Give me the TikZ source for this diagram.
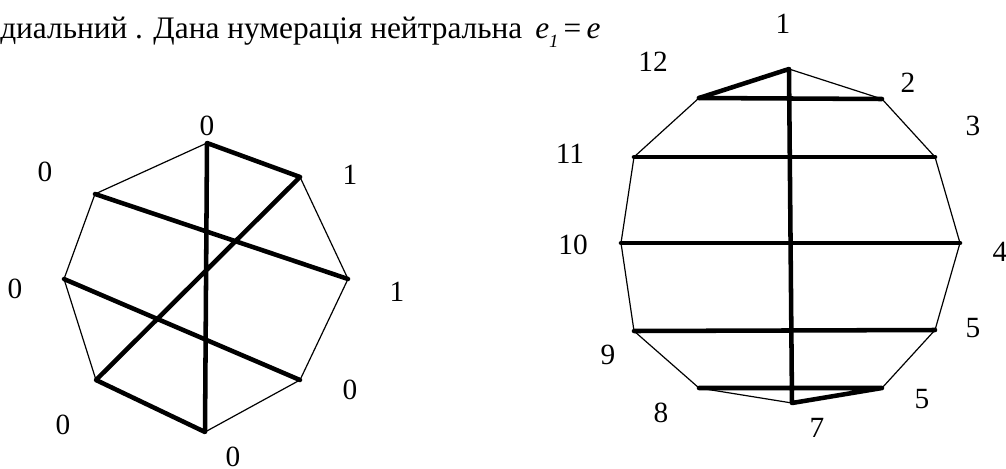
\documentclass[tikz,border=0pt]{standalone}
\usepackage{fontspec}
\setmainfont{Liberation Serif}
\usetikzlibrary{positioning}

\begin{document}
\begin{tikzpicture}[
    x=0.75pt, y=-0.75pt,
    side/.style={line width=0.9pt, line join=round},
    chord/.style={line width=3.4pt, line cap=round, line join=round},
    lbl/.style={inner sep=0pt, font=\fontsize{22}{24}\selectfont},
    headtext/.style={inner sep=0pt, anchor=base west, font=\fontsize{23.5}{28}\selectfont}
]
\useasboundingbox (0,0) rectangle (1006,468);

% heading line (cut at the right like the source)
\node (title) [headtext] at (0,38) {диальний . Дана нумерація нейтральна};
\begin{scope}
  \clip (480,0) rectangle (600,60);
  \node (eq) [headtext] at (535,38) {\textit{e}\raisebox{-0.3em}{\fontsize{14}{14}\selectfont\textit{1}}\,=\,\textit{e}\raisebox{-0.3em}{\fontsize{14}{14}\selectfont\textit{0}}};
\end{scope}

% octagon
\coordinate (a0) at (207,143);
\coordinate (a1) at (300,177);
\coordinate (a2) at (348,279);
\coordinate (a3) at (300,380);
\coordinate (a4) at (205,432);
\coordinate (a5) at (96,380);
\coordinate (a6) at (64,279);
\coordinate (a7) at (95,194);

\node (la0) [lbl] at (207,126) {0};
\node (la1) [lbl] at (350,175) {1};
\node (la2) [lbl] at (397,292) {1};
\node (la3) [lbl] at (350,390) {0};
\node (la4) [lbl] at (233,457) {0};
\node (la5) [lbl] at (63,425) {0};
\node (la6) [lbl] at (15,289) {0};
\node (la7) [lbl] at (45,172) {0};

\draw [side] (a0) -- (a7) -- (a6) -- (a5);
\draw [side] (a4) -- (a3) -- (a2) -- (a1);
\draw [chord] (a1) -- (a0) -- (a4) -- (a5) -- (a1);
\draw [chord] (a7) -- (a2);
\draw [chord] (a6) -- (a3);

% dodecagon
\coordinate (b1) at (789,69);
\coordinate (b2) at (882,99);
\coordinate (b3) at (935,157);
\coordinate (b4) at (960,243);
\coordinate (b5) at (935,330);
\coordinate (b6) at (882,388);
\coordinate (b7) at (792,403);
\coordinate (b8) at (699,388);
\coordinate (b9) at (634,331);
\coordinate (b10) at (621,243);
\coordinate (b11) at (634,157);
\coordinate (b12) at (699,98);

\node (lb1) [lbl] at (783,24) {1};
\node (lb2) [lbl] at (908,83) {2};
\node (lb3) [lbl] at (973,126) {3};
\node (lb4) [lbl] at (1000,252) {4};
\node (lb5) [lbl] at (973,328) {5};
\node (lb6) [lbl] at (922,399) {5};
\node (lb7) [lbl] at (817,428) {7};
\node (lb8) [lbl] at (661,413) {8};
\node (lb9) [lbl] at (608,355) {9};
\node (lb10) [lbl] at (573,245) {10};
\node (lb11) [lbl] at (570,154) {11};
\node (lb12) [lbl] at (653,62) {12};

\draw [side] (b1) -- (b2) -- (b3) -- (b4) -- (b5) -- (b6);
\draw [side] (b7) -- (b8) -- (b9) -- (b10) -- (b11) -- (b12);
\draw [chord] (b12) -- (b1) -- (b7) -- (b6) -- (b8);
\draw [chord] (b12) -- (b2);
\draw [chord] (b11) -- (b3);
\draw [chord] (b10) -- (b4);
\draw [chord] (b9) -- (b5);
\end{tikzpicture}
\end{document}
